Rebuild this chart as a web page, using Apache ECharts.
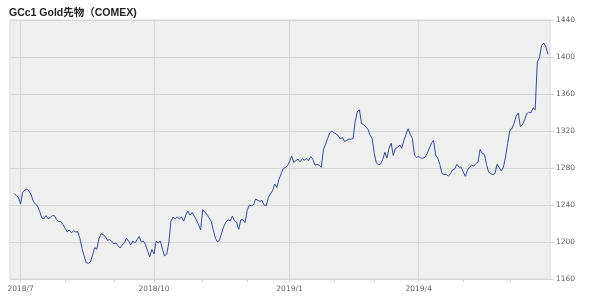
<!DOCTYPE html>
<html>
<head>
<meta charset="utf-8">
<script src="https://cdn.jsdelivr.net/npm/echarts@6/dist/echarts.min.js"></script>
<style>html,body{margin:0;padding:0;background:#fff}#c{width:590px;height:296px}</style>
</head>
<body>
<div id="c"></div>
<script>
const chartTitle = 'GCc1 Gold先物（COMEX)';
const firstDay = '2018-06-27';
const lastDay = '2019-06-27';
const holidays = ['2018-07-04','2018-09-03','2018-11-22','2018-12-25','2019-01-01','2019-01-21','2019-02-18','2019-04-19','2019-05-27'];
const tickLabels = ['2018/7','2018/10','2019/1','2019/4'];
const yTicks = [1160,1200,1240,1280,1320,1360,1400,1440];

const prices = [
1252.5,1250,1248,1241,1254,1256,1257,1255,1251,1244,
1241,1239,1233,1226,1225,1228.5,1225,1226.5,1228.5,1228.5,
1224,1222,1222,1219,1215,1211,1213,1210,1212,1211,
1211,1204,1193,1185,1177.5,1177,1178.5,1186,1194,1192,
1203.5,1209,1208,1206,1202,1202.5,1201,1198,
1199,1196,1193.5,1197,1199,1204,1201,1197,1201,1199,1202.5,1206,
1200,1201,1197,1190,1184,1192,1187,1201,1199,1201,
1192,1185,1187,1199,1222.5,1227,1225,1227,1225,1227,
1222.5,1229,1233.5,1229,1232,1228,1224,1219,1213,1235,
1232,1230,1226,1222.5,1213,1204,1200,1202.5,1210,1217,1221.5,1224,
1223,1228,1223,1221.5,1213.7,1224,1224,1221,
1234,1240,1239,1240,1246.6,1245,1244,1245,1240,1239,
1248,1252,1255.5,1262.7,1259,1268,1273.5,1279,1280.6,1282.4,
1286.7,1293,1286,1288,1289.6,1286.7,1290,1288.5,1290,1288,
1292.4,1289.6,1283,1284,1283,1280.6,1300,1305.7,1312,1318,
1320,1318,1317,1314.6,
1311.4,1313,1308.6,1310,1311.4,1311,1312,1330,1340.7,1343,
1328,1327,1324.6,1322,1315.7,1312,1296,1285.4,1283.6,1284.3,
1289,1297,1290.7,1301.4,1306.8,1293.6,1301.4,1302,1305,1301.4,
1310,1316.4,1322.5,1316.4,1312,1294,1291.4,1292.5,1290.7,1290.7,
1291.4,1296,1301.4,1306.8,1310,1294,1290.7,1283.6,1274,1273,
1273,
1271.3,1274,1278,1279,1284,1281,1281,1275.7,1271,1277.5,
1281,1283,1282,1284.7,1286.5,1300,1295.5,1294.8,1284,1275.7,
1274,1272.8,1274,1284,1280.3,1276.7,1281,1292,1306.3,1320.7,
1322.5,1328,1336,1339.5,1325,1327,1332,1338.7,1340.5,1339.5,
1345,1343,1394.6,1399,1412.6,1415,1411.5,1403
];

function tradingDays(from, to, skip) {
  const out = [];
  let t = Date.parse(from + 'T00:00:00Z');
  const end = Date.parse(to + 'T00:00:00Z');
  while (t <= end) {
    const d = new Date(t);
    const wd = d.getUTCDay();
    const s = d.toISOString().slice(0, 10);
    if (wd !== 0 && wd !== 6 && skip.indexOf(s) < 0) out.push(s);
    t += 86400000;
  }
  return out;
}

const days = tradingDays(firstDay, lastDay, holidays);
const categories = ['pad-a', 'pad-b'].concat(days, ['pad-c']);
const seriesData = [null, null].concat(prices, [null]);

function monthKey(s) {
  if (!/^\d{4}-\d{2}-\d{2}$/.test(s)) return null;
  return s.slice(0, 4) + '/' + parseInt(s.slice(5, 7), 10);
}
function isMonthStart(i) {
  const cur = categories[i];
  const prev = categories[i - 1];
  if (!monthKey(cur) || !monthKey(prev)) return false;
  return monthKey(cur) !== monthKey(prev);
}
function isQuarterLabel(i) {
  return isMonthStart(i) && tickLabels.indexOf(monthKey(categories[i])) >= 0;
}

const chart = echarts.init(document.getElementById('c'), null, { renderer: 'canvas' });
chart.setOption({
  animation: false,
  backgroundColor: '#ffffff',
  title: {
    text: chartTitle,
    left: 4,
    top: 3,
    textStyle: {
      fontSize: 10.5,
      fontWeight: 'bold',
      color: '#222',
      fontFamily: "'Liberation Sans', 'Noto Sans CJK JP', sans-serif"
    }
  },
  grid: {
    left: 10, right: 40, top: 20, bottom: 17,
    show: true,
    backgroundColor: '#efefef',
    borderColor: '#d9d9d9',
    borderWidth: 1
  },
  xAxis: {
    type: 'category',
    data: categories,
    boundaryGap: false,
    axisLine: { show: false },
    axisTick: {
      show: true,
      length: 3,
      interval: function (i) { return isMonthStart(i); },
      lineStyle: { color: '#cfcfcf' }
    },
    axisLabel: {
      interval: function (i) { return isQuarterLabel(i); },
      formatter: function (v) { return monthKey(v) || ''; },
      fontSize: 7.5,
      color: '#666',
      margin: 6,
      fontFamily: "'DejaVu Sans', sans-serif"
    },
    splitLine: {
      show: true,
      interval: function (i) { return isQuarterLabel(i); },
      lineStyle: { color: '#d6d6d6', width: 1 }
    }
  },
  yAxis: {
    type: 'value',
    position: 'right',
    min: yTicks[0],
    max: yTicks[yTicks.length - 1],
    interval: 40,
    axisLine: { show: false },
    axisTick: { show: true, length: 4, lineStyle: { color: '#d0d0d0' } },
    axisLabel: {
      formatter: function (v) { return String(v); },
      fontSize: 7.5,
      color: '#666',
      margin: 6,
      fontFamily: "'DejaVu Sans', sans-serif"
    },
    splitLine: { show: true, lineStyle: { color: '#d6d6d6', width: 1 } }
  },
  series: [{
    type: 'line',
    data: seriesData,
    showSymbol: false,
    symbol: 'none',
    lineStyle: { color: '#34499a', width: 1 },
    itemStyle: { color: '#34499a' }
  }]
});
</script>
</body>
</html>
